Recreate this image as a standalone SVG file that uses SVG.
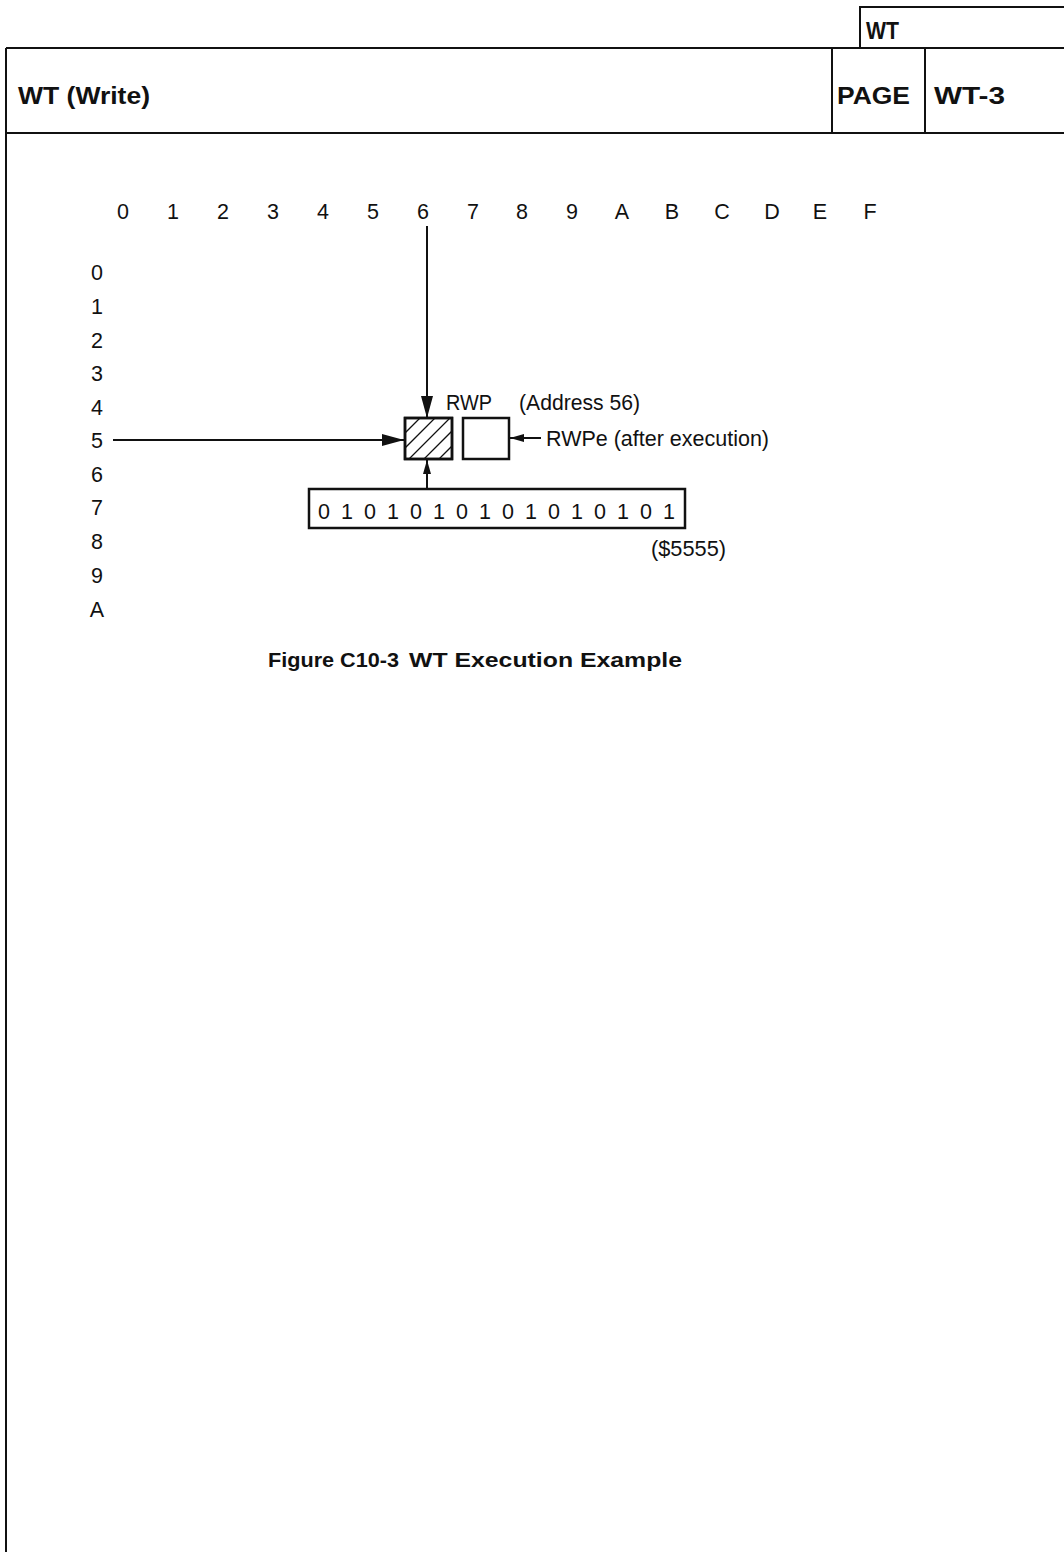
<svg xmlns="http://www.w3.org/2000/svg" width="1064" height="1552" viewBox="0 0 1064 1552">
<style>
text{font-family:"Liberation Sans",Arial,sans-serif;fill:#111}
.h{font-weight:bold;font-size:24px}
.n{font-size:21.5px}
.c{text-anchor:middle}
.ln{stroke:#111;stroke-width:2;fill:none}
.box{stroke:#111;stroke-width:2.5;fill:#fff}
.hat{stroke:#111;stroke-width:1.3;fill:none}
.frame{stroke:#111;stroke-width:2.5;fill:none}
</style>
<defs>
<marker id="ah" viewBox="0 0 22 12" refX="22" refY="6" markerWidth="22" markerHeight="12" markerUnits="userSpaceOnUse" orient="auto"><path d="M0,0 L22,6 L0,12 Z" fill="#111"/></marker>
<marker id="as" viewBox="0 0 14 8" refX="14" refY="4" markerWidth="14" markerHeight="8" markerUnits="userSpaceOnUse" orient="auto"><path d="M0,0 L14,4 L0,8 Z" fill="#111"/></marker>
<clipPath id="hc"><rect x="405" y="418" width="47" height="41"/></clipPath>
</defs>
<g id="header">
<path class="ln" d="M6,48 H1064 M6,133 H1064 M6,48 V1552 M860,48 V7 H1064 M832,48 V133 M925,48 V133"/>
<text class="h" x="866" y="39" textLength="33" lengthAdjust="spacingAndGlyphs">WT</text>
<text class="h" x="18" y="104" textLength="132" lengthAdjust="spacingAndGlyphs">WT (Write)</text>
<text class="h" x="837" y="104" textLength="73" lengthAdjust="spacingAndGlyphs">PAGE</text>
<text class="h" x="934" y="104" textLength="71" lengthAdjust="spacingAndGlyphs">WT-3</text>
</g>
<g id="col-labels">
<text class="n c" x="123" y="219">0</text>
<text class="n c" x="173" y="219">1</text>
<text class="n c" x="223" y="219">2</text>
<text class="n c" x="273" y="219">3</text>
<text class="n c" x="323" y="219">4</text>
<text class="n c" x="373" y="219">5</text>
<text class="n c" x="423" y="219">6</text>
<text class="n c" x="473" y="219">7</text>
<text class="n c" x="522" y="219">8</text>
<text class="n c" x="572" y="219">9</text>
<text class="n c" x="622" y="219">A</text>
<text class="n c" x="672" y="219">B</text>
<text class="n c" x="722" y="219">C</text>
<text class="n c" x="772" y="219">D</text>
<text class="n c" x="820" y="219">E</text>
<text class="n c" x="870" y="219">F</text>
</g>
<g id="row-labels">
<text class="n c" x="97" y="280">0</text>
<text class="n c" x="97" y="314">1</text>
<text class="n c" x="97" y="348">2</text>
<text class="n c" x="97" y="381">3</text>
<text class="n c" x="97" y="415">4</text>
<text class="n c" x="97" y="448">5</text>
<text class="n c" x="97" y="482">6</text>
<text class="n c" x="97" y="515">7</text>
<text class="n c" x="97" y="549">8</text>
<text class="n c" x="97" y="583">9</text>
<text class="n c" x="97" y="617">A</text>
</g>
<g id="connectors">
<line class="ln" x1="427" y1="226" x2="427" y2="418" marker-end="url(#ah)"/>
<line class="ln" x1="113" y1="440" x2="404" y2="440" marker-end="url(#ah)"/>
<line class="ln" x1="427" y1="489" x2="427" y2="460" marker-end="url(#as)"/>
<line class="ln" x1="541" y1="438" x2="510" y2="438" marker-end="url(#as)"/>
</g>
<g id="rwp">
<rect class="box" x="405" y="418" width="47" height="41"/>
<path class="hat" clip-path="url(#hc)" d="M395,443 L425,413 M395,458 L440,413 M400,468 L455,413 M415,468 L460,423 M430,468 L460,438 M445,468 L460,453"/>
<rect class="frame" x="405" y="418" width="47" height="41"/>
<text class="n" x="446" y="410" textLength="46" lengthAdjust="spacingAndGlyphs">RWP</text>
<text class="n" x="519" y="410" textLength="121" lengthAdjust="spacingAndGlyphs">(Address 56)</text>
</g>
<g id="rwpe">
<rect class="box" x="463" y="418" width="46" height="41"/>
<text class="n" x="546" y="446" textLength="223" lengthAdjust="spacingAndGlyphs">RWPe (after execution)</text>
</g>
<g id="data">
<rect class="box" x="309" y="489" width="376" height="39"/>
<text class="n c" y="519"><tspan x="324">0</tspan><tspan x="347">1</tspan><tspan x="370">0</tspan><tspan x="393">1</tspan><tspan x="416">0</tspan><tspan x="439">1</tspan><tspan x="462">0</tspan><tspan x="485">1</tspan><tspan x="508">0</tspan><tspan x="531">1</tspan><tspan x="554">0</tspan><tspan x="577">1</tspan><tspan x="600">0</tspan><tspan x="623">1</tspan><tspan x="646">0</tspan><tspan x="669">1</tspan></text>
<text class="n" x="651" y="556" textLength="75" lengthAdjust="spacingAndGlyphs">($5555)</text>
</g>
<text id="caption" font-weight="bold" font-size="21" y="667"><tspan x="268" textLength="131" lengthAdjust="spacingAndGlyphs">Figure C10-3</tspan><tspan x="409" textLength="273" lengthAdjust="spacingAndGlyphs">WT Execution Example</tspan></text>
</svg>
